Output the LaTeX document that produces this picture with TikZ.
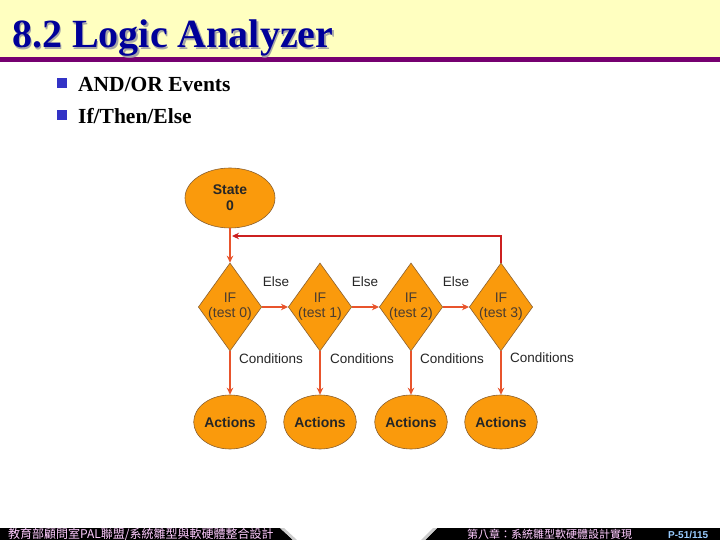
\documentclass[tikz,border=0pt]{standalone}
\usepackage{fontspec}
\setmainfont{Liberation Serif}
\setsansfont{Liberation Sans}
\newfontfamily\cjk{Noto Sans CJK TC}
\usetikzlibrary{shapes.geometric,arrows.meta}
\definecolor{titlebg}{HTML}{FFFFC0}
\definecolor{purp}{HTML}{760070}
\definecolor{navy}{HTML}{000099}
\definecolor{orng}{HTML}{FA9A0C}
\definecolor{brd}{HTML}{8A6030}
\definecolor{arr}{HTML}{E8542C}
\definecolor{loopc}{HTML}{CC2020}
\definecolor{dtext}{HTML}{4A3C30}
\definecolor{pinkt}{HTML}{FFCCFF}
\definecolor{bluet}{HTML}{99CCFF}
\tikzset{
  x=1pt, y=-1pt,
  ell/.style={ellipse, draw=brd, line width=0.6pt, fill=orng, inner sep=0pt},
  dia/.style={diamond, draw=brd, line width=0.6pt, fill=orng, inner sep=0pt, minimum width=60pt, minimum height=83pt, aspect=0.72, font=\sffamily\fontsize{14}{15}\selectfont, text=dtext, align=center},
  act/.style={ell, minimum width=66pt, minimum height=54pt, font=\sffamily\bfseries\fontsize{14}{15}\selectfont, text=black!85},
  flow/.style={draw=arr, line width=1.5pt, -{Stealth[length=7pt,width=6.5pt]}},
  lbl/.style={font=\sffamily\fontsize{13.5}{14}\selectfont, text=black!85},
  bul/.style={fill=navy!70!blue!80, minimum size=10pt, inner sep=0pt},
  btxt/.style={anchor=base west, font=\bfseries\fontsize{21.5}{24}\selectfont, text=black},
}
\begin{document}
\begin{tikzpicture}
\useasboundingbox (0,0) rectangle (720,540);
\fill[white] (0,0) rectangle (720,540);
% title band
\fill[titlebg] (0,0) rectangle (720,57);
\fill[purp] (0,57) rectangle (720,62);
\begin{scope}[shift={(1.5,1.5)}]
\node[anchor=base west, font=\bfseries\fontsize{40}{44}\selectfont, text=black!35, inner sep=0pt] at (12,48) {8.2 Logic Analyzer};
\end{scope}
\node[anchor=base west, font=\bfseries\fontsize{40}{44}\selectfont, text=navy, inner sep=0pt] (title) at (12,48) {8.2 Logic Analyzer};
% bullets
\node[bul] (b1) at (62,83) {};
\node[btxt, inner sep=0pt] (t1) at (78,92) {AND/OR Events};
\node[bul] (b2) at (62,115) {};
\node[btxt, inner sep=0pt] (t2) at (78,124) {If/Then/Else};
% diagram
\node[ell, minimum width=90pt, minimum height=60pt, font=\sffamily\bfseries\fontsize{14}{16}\selectfont, align=center, text=black!85] (s0) at (230,198) {State\\0};
\foreach \i/\x in {0/230,1/320,2/411,3/501}{
  \node[dia] (d\i) at (\x,307) {IF\\(test \i)};
  \node[act] (a\i) at (\x,422) {Actions};
  \draw[flow] (d\i.south) -- (a\i.north);
}
\draw[flow] (s0.south) -- (d0.north);
\draw[flow] (d0.east) -- (d1.west);
\draw[flow] (d1.east) -- (d2.west);
\draw[flow] (d2.east) -- (d3.west);
\coordinate (lp) at (232,236);
\draw[draw=loopc, line width=1.5pt, -{Stealth[length=7pt,width=6.5pt]}] (d3.north) |- (lp);
\node[lbl] (e1) at (276,282) {Else};
\node[lbl] (e2) at (365,282) {Else};
\node[lbl] (e3) at (456,282) {Else};
\node[lbl, anchor=west, inner sep=0pt] (c0) at (239,359) {Conditions};
\node[lbl, anchor=west, inner sep=0pt] (c1) at (330,359) {Conditions};
\node[lbl, anchor=west, inner sep=0pt] (c2) at (420,359) {Conditions};
\node[lbl, anchor=west, inner sep=0pt] (c3) at (510,358) {Conditions};
% footer
\fill[black] (0,528) -- (280,528) -- (293,540) -- (0,540) -- cycle;
\fill[black!20] (280,528) -- (284,528) -- (297,540) -- (293,540) -- cycle;
\fill[black] (437,528) -- (720,528) -- (720,540) -- (425,540) -- cycle;
\fill[black!20] (433,528) -- (437,528) -- (425,540) -- (421,540) -- cycle;
\node[anchor=west, inner sep=0pt, font=\cjk\fontsize{12}{12}\selectfont, text=pinkt] (f1) at (8,534) {教育部顧問室PAL聯盟/系統雛型與軟硬體整合設計};
\node[anchor=west, inner sep=0pt, font=\cjk\fontsize{11}{11}\selectfont, text=pinkt] (f2) at (467,534) {第八章：系統雛型軟硬體設計實現};
\node[anchor=west, inner sep=0pt, font=\sffamily\bfseries\fontsize{10}{11}\selectfont, text=bluet] (pg) at (668,535) {P-51/115};
\end{tikzpicture}
\end{document}
